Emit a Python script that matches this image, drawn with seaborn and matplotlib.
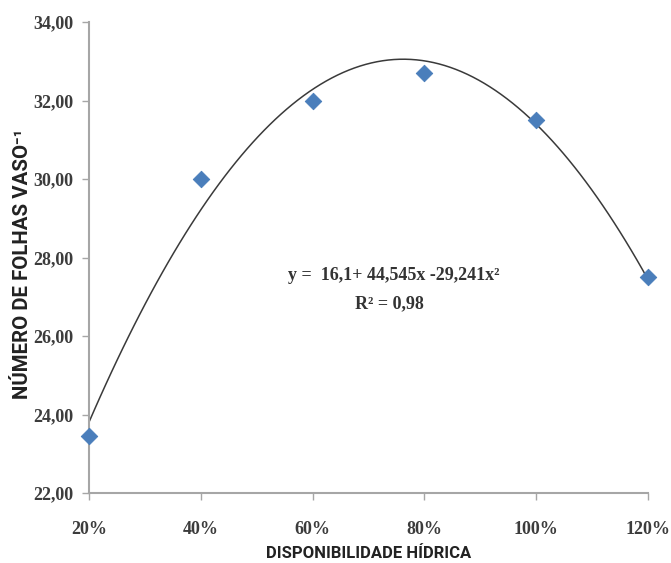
import matplotlib
matplotlib.use('Agg')
import matplotlib.pyplot as plt
import seaborn as sns
import pandas as pd

# Chart data
disponibilidade = [0.2, 0.4, 0.6, 0.8, 1.0, 1.2]
folhas = [23.45, 30.0, 32.0, 32.7, 31.5, 27.5]
x_tick_labels = ['20%', '40%', '60%', '80%', '100%', '120%']
y_ticks = [22, 24, 26, 28, 30, 32, 34]
equacao = 'y =  16,1+ 44,545x -29,241x²'
r2 = 'R² = 0,98'

sns.set_style('white')
plt.rcParams['font.family'] = ['Liberation Serif', 'DejaVu Serif']

df = pd.DataFrame({'x': disponibilidade, 'y': folhas})

fig = plt.figure(figsize=(6.71, 5.63), dpi=100)
ax = fig.add_axes([89 / 671, 1 - 493 / 563, (648 - 89) / 671, (493 - 22) / 563])

# Quadratic trend line
sns.regplot(data=df, x='x', y='y', order=2, ci=None, scatter=False, ax=ax,
            line_kws={'color': '#3a3a3a', 'linewidth': 1.1})
# Observed points
sns.scatterplot(data=df, x='x', y='y', marker='D', s=70, color='#4a7ebb',
                edgecolor='#4a7ebb', ax=ax, zorder=5, clip_on=False)

ax.set_xlim(0.2, 1.2)
ax.set_ylim(22, 34)
ax.set_xticks(disponibilidade)
ax.set_xticklabels(x_tick_labels)
ax.set_yticks(y_ticks)
ax.set_yticklabels([f'{v:.2f}'.replace('.', ',') for v in y_ticks])

for lab in ax.get_xticklabels() + ax.get_yticklabels():
    lab.set_fontsize(13)
    lab.set_fontweight('bold')
    lab.set_color('#3c3c3c')

sns.despine(ax=ax)
for side in ['left', 'bottom']:
    ax.spines[side].set_color('#a6a6a6')
    ax.spines[side].set_linewidth(1.5)
ax.tick_params(axis='both', which='major', direction='out', length=5, width=1,
               color='#a6a6a6', left=True, bottom=True, pad=6)
ax.tick_params(axis='x', pad=15)

label_font = ['Roboto', 'DejaVu Sans']
ax.set_xlabel('DISPONIBILIDADE HÍDRICA', fontsize=12, fontweight='bold',
              family=label_font, color='#222222', labelpad=6)
ax.set_ylabel('NÚMERO DE FOLHAS VASO⁻¹', fontsize=14.7, fontweight='bold',
              family=label_font, color='#222222')
ax.yaxis.set_label_coords(-0.102, 0.487)

ax.text(0.746, 27.53, equacao, ha='center', va='center', fontsize=13,
        fontweight='bold', color='#333333')
ax.text(0.738, 26.82, r2, ha='center', va='center', fontsize=13,
        fontweight='bold', color='#333333')

plt.savefig('out.png', dpi=100)
